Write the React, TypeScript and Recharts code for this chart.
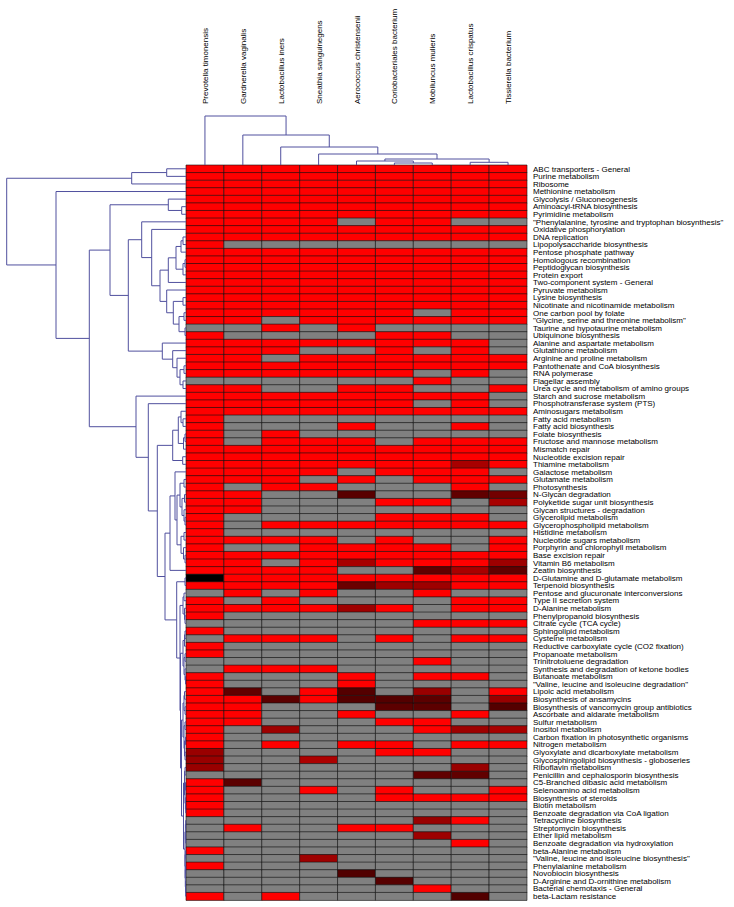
import { Bar, BarChart, Cell, Line, LineChart, XAxis, YAxis } from "recharts";

const organisms = [
  "Prevotella timonensis",
  "Gardnerella vaginalis",
  "Lactobacillus iners",
  "Sneathia sanguinegens",
  "Aerococcus christensenii",
  "Coriobacteriales bacterium",
  "Mobiluncus mulieris",
  "Lactobacillus crispatus",
  "Tissierella bacterium",
];

const pathways = [
  "ABC transporters - General",
  "Purine metabolism",
  "Ribosome",
  "Methionine metabolism",
  "Glycolysis / Gluconeogenesis",
  "Aminoacyl-tRNA biosynthesis",
  "Pyrimidine metabolism",
  "\"Phenylalanine, tyrosine and tryptophan biosynthesis\"",
  "Oxidative phosphorylation",
  "DNA replication",
  "Lipopolysaccharide biosynthesis",
  "Pentose phosphate pathway",
  "Homologous recombination",
  "Peptidoglycan biosynthesis",
  "Protein export",
  "Two-component system - General",
  "Pyruvate metabolism",
  "Lysine biosynthesis",
  "Nicotinate and nicotinamide metabolism",
  "One carbon pool by folate",
  "\"Glycine, serine and threonine metabolism\"",
  "Taurine and hypotaurine metabolism",
  "Ubiquinone biosynthesis",
  "Alanine and aspartate metabolism",
  "Glutathione metabolism",
  "Arginine and proline metabolism",
  "Pantothenate and CoA biosynthesis",
  "RNA polymerase",
  "Flagellar assembly",
  "Urea cycle and metabolism of amino groups",
  "Starch and sucrose metabolism",
  "Phosphotransferase system (PTS)",
  "Aminosugars metabolism",
  "Fatty acid metabolism",
  "Fatty acid biosynthesis",
  "Folate biosynthesis",
  "Fructose and mannose metabolism",
  "Mismatch repair",
  "Nucleotide excision repair",
  "Thiamine metabolism",
  "Galactose metabolism",
  "Glutamate metabolism",
  "Photosynthesis",
  "N-Glycan degradation",
  "Polyketide sugar unit biosynthesis",
  "Glycan structures - degradation",
  "Glycerolipid metabolism",
  "Glycerophospholipid metabolism",
  "Histidine metabolism",
  "Nucleotide sugars metabolism",
  "Porphyrin and chlorophyll metabolism",
  "Base excision repair",
  "Vitamin B6 metabolism",
  "Zeatin biosynthesis",
  "D-Glutamine and D-glutamate metabolism",
  "Terpenoid biosynthesis",
  "Pentose and glucuronate interconversions",
  "Type II secretion system",
  "D-Alanine metabolism",
  "Phenylpropanoid biosynthesis",
  "Citrate cycle (TCA cycle)",
  "Sphingolipid metabolism",
  "Cysteine metabolism",
  "Reductive carboxylate cycle (CO2 fixation)",
  "Propanoate metabolism",
  "Trinitrotoluene degradation",
  "Synthesis and degradation of ketone bodies",
  "Butanoate metabolism",
  "\"Valine, leucine and isoleucine degradation\"",
  "Lipoic acid metabolism",
  "Biosynthesis of ansamycins",
  "Biosynthesis of vancomycin group antibiotics",
  "Ascorbate and aldarate metabolism",
  "Sulfur metabolism",
  "Inositol metabolism",
  "Carbon fixation in photosynthetic organisms",
  "Nitrogen metabolism",
  "Glyoxylate and dicarboxylate metabolism",
  "Glycosphingolipid biosynthesis - globoseries",
  "Riboflavin metabolism",
  "Penicillin and cephalosporin biosynthesis",
  "C5-Branched dibasic acid metabolism",
  "Selenoamino acid metabolism",
  "Biosynthesis of steroids",
  "Biotin metabolism",
  "Benzoate degradation via CoA ligation",
  "Tetracycline biosynthesis",
  "Streptomycin biosynthesis",
  "Ether lipid metabolism",
  "Benzoate degradation via hydroxylation",
  "beta-Alanine metabolism",
  "\"Valine, leucine and isoleucine biosynthesis\"",
  "Phenylalanine metabolism",
  "Novobiocin biosynthesis",
  "D-Arginine and D-ornithine metabolism",
  "Bacterial chemotaxis - General",
  "beta-Lactam resistance",
];

// relative abundance, 1 = full red, lower = darker, null = absent (grey)
const R = 1;
const _ = null;
const abundance: (number | null)[][] = [
  [R, R, R, R, R, R, R, R, R],
  [R, R, R, R, R, R, R, R, R],
  [R, R, R, R, R, R, R, R, R],
  [R, R, R, R, R, R, R, R, R],
  [R, R, R, R, R, R, R, R, R],
  [R, R, R, R, R, R, R, R, R],
  [R, R, R, R, R, R, R, R, R],
  [R, R, R, R, _, R, R, _, _],
  [R, R, R, R, R, R, R, R, R],
  [R, R, R, R, R, R, R, R, R],
  [R, _, _, _, _, _, _, _, _],
  [R, R, R, R, R, R, R, R, R],
  [R, R, R, R, R, R, R, R, R],
  [R, R, R, R, R, R, R, R, R],
  [R, R, R, R, R, R, R, R, R],
  [R, R, R, R, R, R, R, R, R],
  [R, R, R, R, R, R, R, R, R],
  [R, R, R, R, R, R, R, R, R],
  [R, R, R, R, R, R, R, R, R],
  [R, R, R, R, R, R, _, R, R],
  [R, R, _, R, R, R, R, R, R],
  [_, _, R, _, R, _, _, _, _],
  [R, _, _, _, _, R, R, _, _],
  [R, R, R, R, R, R, R, R, _],
  [R, R, R, _, _, R, _, R, _],
  [R, R, _, R, R, R, R, R, R],
  [R, R, R, R, R, R, R, R, R],
  [R, R, R, R, R, R, _, R, _],
  [_, _, _, _, _, _, R, _, _],
  [R, R, _, _, R, R, _, _, R],
  [R, R, R, R, R, R, R, R, _],
  [R, R, R, R, R, R, _, R, _],
  [R, R, R, R, R, R, R, R, R],
  [R, _, _, _, _, _, _, _, _],
  [R, _, _, _, R, _, _, R, _],
  [R, _, R, _, _, _, _, _, _],
  [R, _, R, R, R, _, R, R, R],
  [R, R, R, R, R, R, R, R, R],
  [R, R, R, R, R, R, R, R, R],
  [R, R, R, R, R, R, R, 0.66, R],
  [R, R, R, R, _, R, R, R, _],
  [R, R, R, _, R, _, R, R, R],
  [R, _, R, R, _, _, _, R, _],
  [R, R, _, _, 0.35, _, _, 0.38, 0.45],
  [R, R, _, _, _, R, R, _, 0.66],
  [R, R, _, _, _, _, _, _, _],
  [R, _, _, _, _, R, R, R, _],
  [R, _, R, R, R, R, R, R, R],
  [R, _, _, _, _, _, _, _, _],
  [R, R, R, R, _, R, _, _, R],
  [R, _, _, R, R, R, R, _, R],
  [R, R, R, R, R, R, R, R, R],
  [R, R, _, R, 0.66, R, R, R, 0.62],
  [R, R, R, R, _, _, 0.38, 0.66, 0.38],
  [0, R, R, R, R, R, R, R, R],
  [R, R, R, R, 0.42, 0.62, 0.62, R, R],
  [_, R, _, R, _, _, R, _, _],
  [R, _, R, _, _, _, _, R, R],
  [R, R, R, R, 0.62, R, _, R, R],
  [R, _, _, _, _, _, _, _, _],
  [_, _, _, _, _, _, R, R, R],
  [R, _, _, _, _, _, _, _, _],
  [_, R, R, R, _, R, _, R, R],
  [R, _, _, _, _, _, _, _, _],
  [R, _, _, _, _, _, _, _, _],
  [_, _, _, _, _, _, R, _, _],
  [_, R, R, R, _, _, _, _, _],
  [R, _, _, _, R, _, R, R, _],
  [R, _, _, _, R, _, _, _, _],
  [R, 0.38, _, R, 0.33, _, 0.6, _, R],
  [R, R, 0.36, R, 0.33, 0.33, 0.36, _, 0.6],
  [R, R, _, _, _, 0.36, 0.36, _, 0.33],
  [R, R, _, _, R, _, _, R, _],
  [R, R, _, _, _, R, R, _, _],
  [R, _, 0.62, _, _, _, R, 0.62, 0.66],
  [R, _, _, _, _, _, _, _, _],
  [R, _, R, _, R, R, _, R, R],
  [0.6, _, _, _, _, R, R, _, _],
  [0.6, _, _, 0.68, _, _, _, _, _],
  [0.6, _, _, _, _, _, _, 0.6, _],
  [_, _, _, _, _, _, 0.38, 0.38, _],
  [R, 0.36, _, _, _, _, _, _, _],
  [R, _, _, R, _, R, _, _, R],
  [R, _, _, _, _, R, R, R, R],
  [R, _, _, _, _, _, _, _, _],
  [R, _, _, _, _, _, _, _, _],
  [_, _, _, _, _, _, 0.6, R, _],
  [_, R, _, _, R, R, _, _, _],
  [_, _, _, _, _, _, 0.62, _, _],
  [_, _, _, _, _, _, _, R, _],
  [R, _, _, _, _, _, _, _, _],
  [_, _, _, 0.62, _, _, _, _, _],
  [R, _, _, _, _, _, _, _, _],
  [_, _, _, _, 0.32, _, _, _, _],
  [_, _, _, _, _, 0.34, _, _, _],
  [_, _, _, _, _, _, R, _, _],
  [R, _, R, _, _, _, _, 0.32, _],
];

// dendrograms: [left, right, merge height]; leaves are row / column indices
type Node = number | [Node, Node, number];

const colTree: Node = [0, [1, [2, [3, [[4, [5, 6, 2], 4], [7, 8, 2.7], 6], 11], 18], 30], 49];

const rowTree: Node = [
  [[0, 1, 19.3], 2, 54.3],
  [
    3,
    [
      [
        [4, [5, 6, 4.3], 17.7],
        [
          [
            7,
            [
              8,
              [
                [[[[9, 10, 3], 11, 5], [[12, 13, 1], 14, 3], 10], 15, 17.7],
                [16, [[17, 18, 3], [[19, 20, 2], [21, 22, 1], 7], 12.7], 19.3],
                26,
              ],
              34.3,
            ],
            44.3,
          ],
          [23, [24, [25, [[26, 27, 2], [28, 29, 3], 6], 9], 13.3], 23.7],
          57.7,
        ],
        76,
      ],
      [
        30,
        [
          31,
          [
            [[[32, [33, 34, 3], 5], [[35, 36, 1], 37, 2.5], 7.7], [38, 39, 3.3], 13.3],
            [
              [
                [
                  40,
                  [
                    [[41, 42, 2], [[43, 44, 1.5], [45, [46, 47, 1], 2], 4], 6],
                    [[48, 49, 2], [50, [51, 52, 1], 2.5], 5],
                    9,
                  ],
                  11,
                ],
                53,
                16,
              ],
              [
                [54, 55, 1],
                [
                  [[56, 57, 2], [58, [59, 60, 1], 1.5], 3],
                  [
                    [[[61, 62, 1], 63, 1.5], [[64, 65, 1], [66, [67, 68, 0.5], 1], 2], 3],
                    [
                      [[[69, 70, 1.5], [71, 72, 1], 2], [[73, 74, 1], [[75, 76, 0.5], [77, 78, 1], 1.5], 2], 3],
                      [
                        [[79, 80, 1], [[81, 82, 0.5], [83, [84, 85, 0.3], 0.6], 1], 1.5],
                        [[[86, 87, 0.3], [88, 89, 0.3], 0.6], [[90, 91, 0.3], [[92, 93, 0.3], [94, [95, 96, 0.3], 0.5], 0.7], 0.9], 1],
                        2.5,
                      ],
                      4.5,
                    ],
                    5.5,
                  ],
                  6,
                ],
                9.3,
              ],
              21,
            ],
            28.7,
          ],
          37.7,
        ],
        50,
      ],
      96.7,
    ],
    130,
  ],
  179.3,
];

type Pt = { pos: number | null; h: number | null };

function branches(node: Node, out: Pt[][]): { pos: number; h: number } {
  if (typeof node === "number") return { pos: node + 0.5, h: 0 };
  const [a, b, h] = node;
  const l = branches(a, out);
  const r = branches(b, out);
  out.push([
    { pos: l.pos, h: l.h },
    { pos: l.pos, h },
    { pos: r.pos, h },
    { pos: r.pos, h: r.h },
  ]);
  return { pos: (l.pos + r.pos) / 2, h };
}

const rowBranches: Pt[][] = [];
branches(rowTree, rowBranches);
const rowDendro = rowBranches.flatMap((b) => [...b, { h: b[3].h, pos: null }]);

const colBranches: Pt[][] = [];
branches(colTree, colBranches);
const colDendro = colBranches.flatMap((b) => [...b, { pos: b[3].pos, h: null }]);

const cellColor = (v: number | null) =>
  v === null ? "#808080" : `rgb(${Math.round(255 * v)},0,0)`;

const heatData = pathways.map((name) => {
  const row: Record<string, number | string> = { name };
  organisms.forEach((_o, j) => (row[`c${j}`] = 1));
  return row;
});

const FONT = "'Liberation Sans', Arial, sans-serif";
const DENDRO = "#50509e";

const OrganismTick = ({ x, y, payload }: any) => (
  <text
    transform={`translate(${x + 3},${y}) rotate(-90)`}
    textAnchor="start"
    fontSize={8}
    fontFamily={FONT}
    fill="#000"
  >
    {organisms[Math.floor(payload.value)]}
  </text>
);

const PathwayTick = ({ x, y, payload }: any) => (
  <text x={x} y={y} dy="0.35em" textAnchor="start" fontSize={8} fontFamily={FONT} fill="#000">
    {payload.value}
  </text>
);

export default function App() {
  return (
    <div style={{ position: "absolute", left: 0, top: 0, width: 734, height: 907, background: "#fff" }}>
      <div style={{ position: "absolute", left: 0, top: 0 }}>
        <BarChart
          width={734}
          height={907}
          layout="vertical"
          data={heatData}
          barCategoryGap={0}
          margin={{ top: 0, right: 0, bottom: 7, left: 186 }}
        >
          <XAxis
            type="number"
            orientation="top"
            domain={[0, 9]}
            ticks={organisms.map((_o, j) => j + 0.5)}
            height={165}
            tickSize={0}
            tickMargin={61}
            axisLine={false}
            tickLine={false}
            tick={<OrganismTick />}
            interval={0}
          />
          <YAxis
            type="category"
            dataKey="name"
            orientation="right"
            width={207}
            interval={0}
            tickSize={0}
            tickMargin={6}
            axisLine={false}
            tickLine={false}
            tick={<PathwayTick />}
          />
          {organisms.map((_o, j) => (
            <Bar key={j} dataKey={`c${j}`} stackId="h" isAnimationActive={false}>
              {pathways.map((_p, i) => (
                <Cell key={i} fill={cellColor(abundance[i][j])} stroke="#111" strokeWidth={0.6} />
              ))}
            </Bar>
          ))}
        </BarChart>
      </div>

      <div style={{ position: "absolute", left: 0, top: 0 }}>
        <LineChart width={190} height={907} data={rowDendro} margin={{ top: 165, right: 4, bottom: 7, left: 6 }}>
          <XAxis type="number" dataKey="h" domain={[0, 180]} reversed hide />
          <YAxis type="number" domain={[0, 97]} reversed hide />
          <Line
            dataKey="pos"
            stroke={DENDRO}
            strokeWidth={1}
            dot={false}
            activeDot={false}
            isAnimationActive={false}
            type="linear"
          />
        </LineChart>
      </div>

      <div style={{ position: "absolute", left: 0, top: 0 }}>
        <LineChart width={734} height={166} data={colDendro} margin={{ top: 116, right: 207, bottom: 1, left: 186 }}>
          <XAxis type="number" dataKey="pos" domain={[0, 9]} hide />
          <YAxis type="number" domain={[0, 49]} hide />
          <Line
            dataKey="h"
            stroke={DENDRO}
            strokeWidth={1}
            dot={false}
            activeDot={false}
            isAnimationActive={false}
            type="linear"
          />
        </LineChart>
      </div>
    </div>
  );
}
